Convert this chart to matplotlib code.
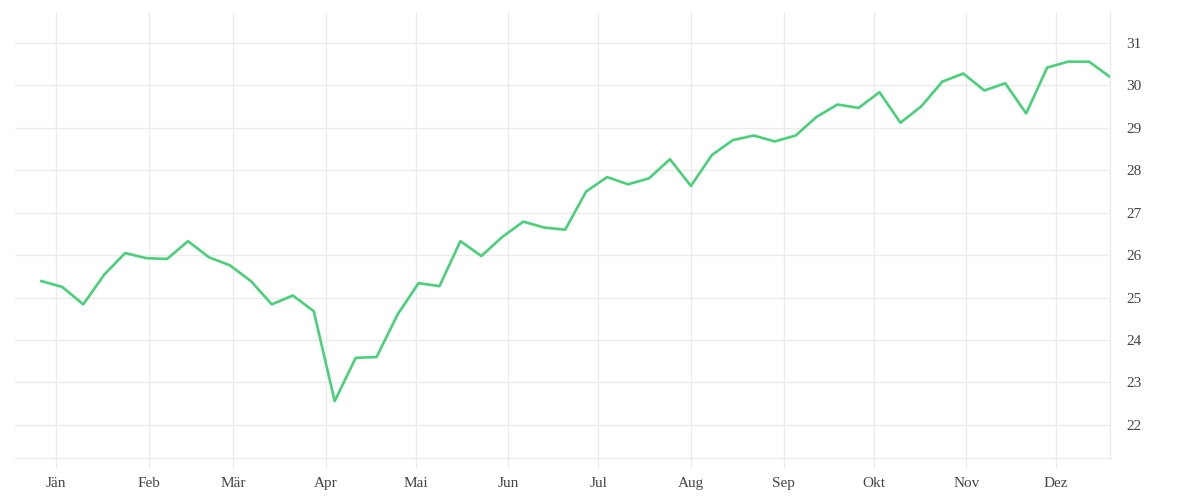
import pandas as pd
import matplotlib
matplotlib.use("Agg")
import matplotlib.pyplot as plt

# weekly values
start_date = "2020-12-27"
values = [25.39, 25.25, 24.84, 25.54, 26.05, 25.93, 25.91, 26.33, 25.95, 25.76,
          25.39, 24.84, 25.05, 24.68, 22.56, 23.58, 23.60, 24.60, 25.34, 25.27,
          26.33, 25.98, 26.43, 26.79, 26.65, 26.60, 27.50, 27.84, 27.67, 27.81,
          28.26, 27.63, 28.36, 28.71, 28.82, 28.68, 28.82, 29.26, 29.55, 29.47,
          29.84, 29.12, 29.51, 30.09, 30.28, 29.88, 30.05, 29.34, 30.42, 30.56,
          30.56, 30.20]
month_labels = ["Jän", "Feb", "Mär", "Apr", "Mai", "Jun",
                "Jul", "Aug", "Sep", "Okt", "Nov", "Dez"]
y_ticks = [22, 23, 24, 25, 26, 27, 28, 29, 30, 31]

dates = pd.date_range(start_date, periods=len(values), freq="7D")
month_starts = pd.date_range("2021-01-01", periods=12, freq="MS")

plt.rcParams['font.family'] = ['Liberation Serif', 'DejaVu Serif']
grid_col = '#ebebeb'
text_col = '#444444'

fig = plt.figure(figsize=(12, 5), dpi=100)
ax = fig.add_axes([0.0125, 0.084, 0.9125, 0.892])

ax.plot(dates, values, color='#4ad07a', linewidth=1.9)

ax.set_xlim(dates[0] - pd.Timedelta(days=8.8), dates[-1])
ax.set_ylim(21.22, 31.73)

ax.set_xticks(month_starts)
ax.set_xticklabels(month_labels)
ax.set_yticks(y_ticks)
ax.yaxis.tick_right()

ax.grid(True, color=grid_col, linewidth=1)
ax.set_axisbelow(True)

for side in ['top', 'left']:
    ax.spines[side].set_visible(False)
for side in ['bottom', 'right']:
    ax.spines[side].set_color(grid_col)
    ax.spines[side].set_linewidth(1)

ax.tick_params(axis='x', length=7.5, width=1, color=grid_col, labelsize=11,
               labelcolor=text_col, pad=6)
ax.tick_params(axis='y', length=0, labelsize=11, labelcolor=text_col, pad=12)

fig.savefig("out.png", dpi=100, facecolor='white')
